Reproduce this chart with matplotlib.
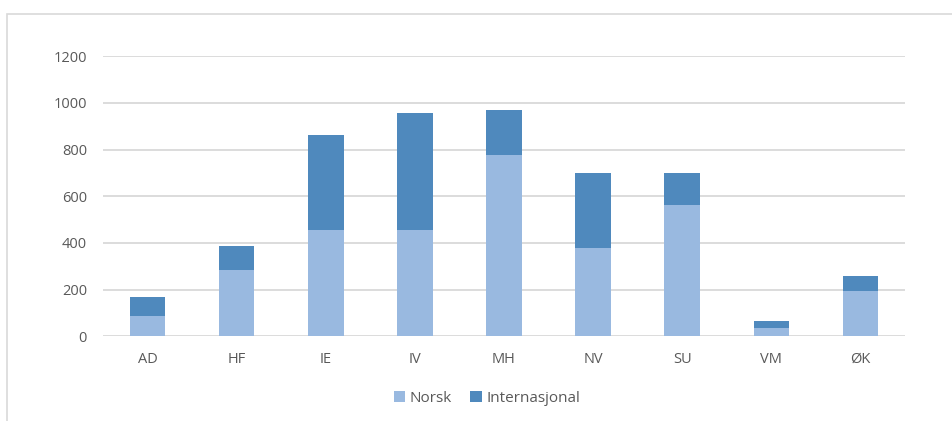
import matplotlib.pyplot as plt
from matplotlib.patches import Rectangle
import numpy as np

categories = ['AD', 'HF', 'IE', 'IV', 'MH', 'NV', 'SU', 'VM', 'ØK']
norsk = [85, 285, 456, 456, 777, 378, 563, 35, 194]
internasjonal = [85, 102, 407, 501, 193, 322, 137, 30, 64]

light = '#99b9e0'
dark = '#4f89bd'
grey = '#595959'

plt.rcParams['font.family'] = ['Open Sans', 'DejaVu Sans']

fig = plt.figure(figsize=(9.52, 4.21), dpi=100)
# outer chart frame (extends off the right and bottom edges)
fig.patches.append(Rectangle((7 / 952, -0.1), 1.0, 1 - 14 / 421 + 0.1,
                             transform=fig.transFigure, fill=False,
                             edgecolor='#d9d9d9', linewidth=1.2))

ax = fig.add_axes([103 / 952, 1 - 336.3 / 421, 802 / 952, 280 / 421])
x = np.arange(len(categories))
ax.bar(x, norsk, width=0.4, color=light, label='Norsk', zorder=3)
ax.bar(x, internasjonal, width=0.4, bottom=norsk, color=dark,
       label='Internasjonal', zorder=3)

ax.set_xlim(-0.5, len(categories) - 0.5)
ax.set_ylim(0, 1200)
ax.set_yticks(range(0, 1201, 200))
ax.grid(axis='y', color='#d9d9d9', linewidth=1.3, zorder=0)
for s in ax.spines.values():
    s.set_visible(False)
ax.tick_params(length=0, colors=grey, labelsize=10.5)
ax.tick_params(axis='y', pad=11.5)
ax.tick_params(axis='x', pad=11)
ax.set_xticks(x)
ax.set_xticklabels(categories)

fig.legend(loc='center', bbox_to_anchor=(487 / 952, 1 - 398 / 421), ncol=2,
           frameon=False, fontsize=11, labelcolor=grey, handlelength=0.75,
           handleheight=0.75, handletextpad=0.3, columnspacing=1.2)

fig.savefig('out.png', dpi=100)
